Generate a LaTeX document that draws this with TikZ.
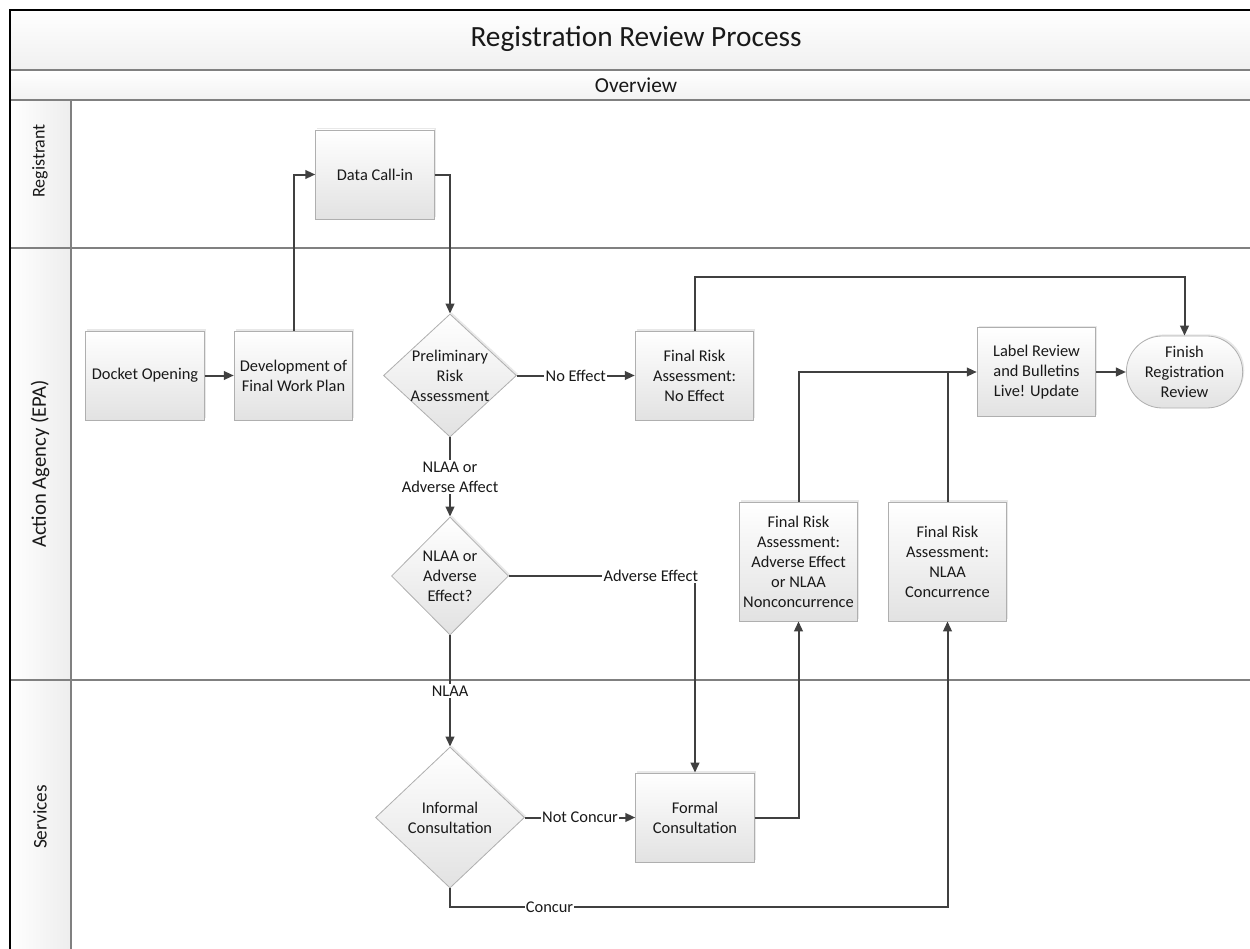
\documentclass[tikz,border=0pt]{standalone}
\usepackage{fontspec}
\setmainfont{Carlito}
\usetikzlibrary{arrows.meta,shapes.geometric,shapes.misc,shadows}

\definecolor{lanegray}{RGB}{128,128,128}
\definecolor{flowgray}{RGB}{64,64,64}
\definecolor{boxgray}{RGB}{175,175,175}
\definecolor{shadegray}{RGB}{226,226,226}
\definecolor{inkgray}{RGB}{25,25,25}

\tikzset{
	boxfont/.style={font=\fontsize{12.3}{15}\selectfont, text=inkgray},
	procbox/.style={rectangle, draw=boxgray, line width=0.6pt, top color=white, bottom color=shadegray,
		minimum width=89pt, minimum height=66.75pt, align=center, inner sep=1pt, boxfont,
		drop shadow={shadow xshift=1.2pt, shadow yshift=1.2pt, opacity=0.18}},
	decision/.style={diamond, draw=boxgray, line width=0.6pt, top color=white, bottom color=shadegray,
		align=center, inner sep=-2pt, aspect=1, boxfont,
		drop shadow={shadow xshift=1.2pt, shadow yshift=1.2pt, opacity=0.18}},
	terminal/.style={rounded rectangle, draw=boxgray, line width=0.6pt, top color=white, bottom color=shadegray,
		minimum width=89.25pt, minimum height=54pt, align=center, inner sep=1pt, boxfont,
		drop shadow={shadow xshift=1.2pt, shadow yshift=1.2pt, opacity=0.18}},
	flowline/.style={draw=flowgray, line width=1.5pt},
	flow/.style={flowline, -{Triangle[length=7.5pt,width=6.5pt]}},
	flowlabel/.style={fill=white, inner sep=1pt, align=center, boxfont},
	laneline/.style={draw=lanegray, line width=1.1pt},
	lanetitle/.style={text=inkgray, rotate=90},
}

\begin{document}
\begin{tikzpicture}[x=0.75pt,y=0.75pt,yscale=-1,xscale=1]
	\useasboundingbox (0,0) rectangle (1250,949);
	\clip (0,0) rectangle (1250,949);

	% pool and lanes
	\fill[top color=white, bottom color=gray!12] (10,10) rectangle (1262,70);
	\fill[top color=white, bottom color=gray!10] (10,70) rectangle (1262,100);
	\fill[left color=white, right color=gray!14] (10,100) rectangle (71,960);
	\draw[laneline] (10,70) -- (1262,70);
	\draw[laneline] (10,100) -- (1262,100);
	\draw[laneline] (10,248) -- (1262,248);
	\draw[laneline] (10,680) -- (1262,680);
	\draw[laneline] (71,100) -- (71,960);
	\draw[black, line width=2pt] (10,960) -- (10,10) -- (1262,10);

	\node[font=\fontsize{22}{26}\selectfont, text=inkgray] (title) at (636,39) {Registration Review Process};
	\node[font=\fontsize{16}{19}\selectfont, text=inkgray] (overview) at (636,85.5) {Overview};
	\node[lanetitle, font=\fontsize{13.5}{16}\selectfont] (registrant) at (40,161) {Registrant};
	\node[lanetitle, font=\fontsize{15.5}{18}\selectfont] (agency) at (40,464) {Action Agency (EPA)};
	\node[lanetitle, font=\fontsize{14.5}{17}\selectfont] (services) at (40,817) {Services};

	% steps
	\node[procbox] (datacall) at (375,174.5) {Data Call-in};
	\node[procbox] (docket) at (145,375.5) {Docket Opening};
	\node[procbox] (workplan) at (293.5,375.5) {Development of\\Final Work Plan};
	\node[decision, minimum width=99.75pt, minimum height=92.25pt] (prelim) at (450,375.5) {Preliminary\\Risk\\Assessment};
	\node[procbox] (noeffect) at (694.5,375.5) {Final Risk\\Assessment:\\No Effect};
	\node[procbox] (labelrev) at (1036.5,372) {Label Review\\and Bulletins\\Live! Update};
	\node[terminal] (finish) at (1184.5,372) {Finish\\Registration\\Review};
	\node[decision, minimum width=87.75pt, minimum height=88.5pt] (nlaachk) at (450,576) {NLAA or\\Adverse\\Effect?};
	\node[procbox, minimum height=89.25pt] (adverse) at (798.5,561.5) {Final Risk\\Assessment:\\Adverse Effect\\or NLAA\\Nonconcurrence};
	\node[procbox, minimum height=89.25pt] (concurred) at (947.5,561.5) {Final Risk\\Assessment:\\NLAA\\Concurrence};
	\node[decision, minimum width=111.75pt, minimum height=105.75pt] (informal) at (450,817.5) {Informal\\Consultation};
	\node[procbox] (formal) at (695,817.5) {Formal\\Consultation};

	% connectors
	\draw[flow] (docket) -- (workplan);
	\draw[flow] (workplan.north) |- (datacall);
	\draw[flow] (datacall) -| (prelim);
	\draw[flow] (prelim) -- node[flowlabel] {No Effect} (noeffect);
	\draw[flow] (noeffect.north) -- ++(0,-54) -| (finish);
	\draw[flow] (prelim) -- node[flowlabel] {NLAA or\\Adverse Affect} (nlaachk);
	\draw[flow] (nlaachk) -| node[flowlabel, pos=0.5, anchor=east, xshift=4pt] {Adverse Effect} (formal);
	\draw[flow] (nlaachk) -- node[flowlabel] {NLAA} (informal);
	\draw[flow] (informal) -- node[flowlabel] {Not Concur} (formal);
	\draw[flow] (formal) -| (adverse);
	\draw[flow] (informal.south) -- ++(0,19) -| node[flowlabel, pos=0.1] {Concur} (concurred);
	\draw[flow] (adverse) |- (labelrev);
	\draw[flowline] (concurred) -- (concurred |- labelrev);
	\draw[flow] (labelrev) -- (finish);
\end{tikzpicture}
\end{document}
